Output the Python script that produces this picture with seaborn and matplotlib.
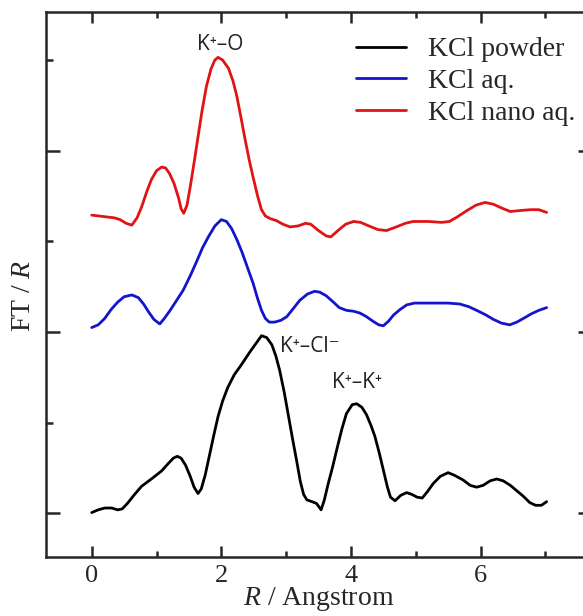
import numpy as np
import pandas as pd
import matplotlib.pyplot as plt
import seaborn as sns
from matplotlib.ticker import MultipleLocator, NullFormatter

# KCl powder (black)
r_powder = [0.00, 0.10, 0.20, 0.31, 0.40, 0.47, 0.55, 0.65, 0.77, 0.92, 1.08, 1.18, 1.26, 1.32,
            1.38, 1.45, 1.52, 1.58, 1.64, 1.69, 1.75, 1.82, 1.88, 1.95, 2.02, 2.10, 2.20, 2.30,
            2.44, 2.54, 2.62, 2.70, 2.78, 2.84, 2.90, 2.97, 3.03, 3.10, 3.16, 3.22, 3.27, 3.32,
            3.40, 3.47, 3.54, 3.59, 3.65, 3.72, 3.78, 3.86, 3.93, 4.02, 4.09, 4.17, 4.24, 4.31,
            4.37, 4.44, 4.50, 4.56, 4.61, 4.68, 4.77, 4.86, 4.94, 5.02, 5.10, 5.18, 5.27, 5.38,
            5.50, 5.60, 5.73, 5.84, 5.94, 6.04, 6.15, 6.25, 6.35, 6.46, 6.56, 6.66, 6.76, 6.85,
            6.94, 7.02]
ft_powder = [0.01, 0.04, 0.06, 0.06, 0.04, 0.05, 0.11, 0.20, 0.30, 0.38, 0.47, 0.55, 0.61, 0.63,
             0.61, 0.53, 0.41, 0.29, 0.22, 0.27, 0.42, 0.65, 0.85, 1.07, 1.24, 1.39, 1.53, 1.63,
             1.78, 1.88, 1.96, 1.94, 1.86, 1.74, 1.58, 1.34, 1.10, 0.82, 0.59, 0.35, 0.21, 0.15,
             0.13, 0.11, 0.04, 0.15, 0.33, 0.52, 0.70, 0.93, 1.10, 1.20, 1.21, 1.17, 1.09, 0.97,
             0.85, 0.66, 0.48, 0.30, 0.18, 0.14, 0.20, 0.23, 0.21, 0.18, 0.17, 0.24, 0.33, 0.41,
             0.45, 0.42, 0.37, 0.31, 0.29, 0.31, 0.36, 0.38, 0.36, 0.31, 0.25, 0.19, 0.12, 0.09,
             0.09, 0.13]

# KCl aq. (blue)
r_aq = [0.00, 0.10, 0.20, 0.30, 0.40, 0.50, 0.62, 0.72, 0.80, 0.88, 0.96, 1.05, 1.12, 1.21,
        1.31, 1.41, 1.52, 1.62, 1.71, 1.80, 1.90, 2.00, 2.08, 2.16, 2.24, 2.32, 2.40, 2.49,
        2.56, 2.62, 2.68, 2.74, 2.82, 2.92, 3.01, 3.10, 3.21, 3.33, 3.44, 3.52, 3.62, 3.73,
        3.82, 3.93, 4.04, 4.14, 4.24, 4.34, 4.43, 4.50, 4.58, 4.66, 4.76, 4.86, 4.98, 5.27,
        5.50, 5.68, 5.82, 5.94, 6.08, 6.20, 6.32, 6.45, 6.56, 6.66, 6.78, 6.90, 7.02]
ft_aq = [2.05, 2.08, 2.15, 2.25, 2.33, 2.39, 2.41, 2.38, 2.31, 2.22, 2.14, 2.09, 2.15, 2.24,
         2.35, 2.46, 2.62, 2.78, 2.93, 3.05, 3.17, 3.24, 3.22, 3.14, 3.02, 2.88, 2.72, 2.54,
         2.37, 2.24, 2.15, 2.11, 2.11, 2.13, 2.17, 2.25, 2.35, 2.42, 2.45, 2.44, 2.40, 2.33,
         2.27, 2.24, 2.23, 2.21, 2.17, 2.12, 2.08, 2.07, 2.12, 2.19, 2.25, 2.30, 2.32, 2.32,
         2.32, 2.31, 2.28, 2.24, 2.19, 2.14, 2.10, 2.08, 2.11, 2.15, 2.20, 2.24, 2.27]

# KCl nano aq. (red)
r_nano = [0.00, 0.12, 0.23, 0.35, 0.44, 0.53, 0.62, 0.70, 0.77, 0.85, 0.92, 1.00, 1.08, 1.14,
          1.20, 1.27, 1.34, 1.38, 1.42, 1.47, 1.52, 1.58, 1.64, 1.70, 1.77, 1.84, 1.90, 1.95,
          2.02, 2.11, 2.18, 2.24, 2.30, 2.36, 2.43, 2.49, 2.56, 2.62, 2.68, 2.76, 2.85, 2.95,
          3.06, 3.18, 3.30, 3.38, 3.50, 3.62, 3.69, 3.80, 3.92, 4.04, 4.15, 4.28, 4.42, 4.55,
          4.70, 4.84, 4.96, 5.20, 5.40, 5.52, 5.64, 5.79, 5.93, 6.07, 6.20, 6.32, 6.46, 6.60,
          6.77, 6.90, 7.02]
ft_nano = [3.29, 3.28, 3.27, 3.26, 3.24, 3.20, 3.18, 3.26, 3.38, 3.55, 3.68, 3.78, 3.82, 3.81,
           3.75, 3.64, 3.48, 3.36, 3.31, 3.40, 3.60, 3.87, 4.15, 4.43, 4.71, 4.90, 5.00, 5.03,
           5.00, 4.91, 4.77, 4.60, 4.38, 4.15, 3.90, 3.71, 3.50, 3.35, 3.28, 3.25, 3.23, 3.19,
           3.16, 3.17, 3.20, 3.19, 3.12, 3.06, 3.05, 3.12, 3.19, 3.22, 3.21, 3.17, 3.13, 3.12,
           3.16, 3.20, 3.22, 3.22, 3.21, 3.22, 3.27, 3.34, 3.40, 3.43, 3.41, 3.37, 3.33, 3.34,
           3.35, 3.35, 3.32]

labels = ['KCl powder', 'KCl aq.', 'KCl nano aq.']
colors = ['black', '#1414cc', '#e01414']

df = pd.concat([
    pd.DataFrame({'R': r_powder, 'FT': ft_powder, 'sample': labels[0]}),
    pd.DataFrame({'R': r_aq, 'FT': ft_aq, 'sample': labels[1]}),
    pd.DataFrame({'R': r_nano, 'FT': ft_nano, 'sample': labels[2]}),
])

sns.set_style('ticks')
plt.rcParams['font.family'] = ['Liberation Serif', 'DejaVu Serif']
plt.rcParams['mathtext.fontset'] = 'custom'
plt.rcParams['mathtext.rm'] = 'Liberation Serif'
plt.rcParams['mathtext.it'] = 'Liberation Serif:italic'

fig = plt.figure(figsize=(5.83, 6.16), dpi=100)
ax = fig.add_axes([0.0784, 0.0958, 0.937, 0.8847])

sns.lineplot(data=df, x='R', y='FT', hue='sample', hue_order=labels,
             palette=dict(zip(labels, colors)), estimator=None, sort=False,
             lw=2.0, solid_joinstyle='round', solid_capstyle='round', ax=ax)

ax.set_xlim(-0.71, 7.72)
ax.set_ylim(-0.48, 5.53)

ax.xaxis.set_major_locator(MultipleLocator(2))
ax.xaxis.set_minor_locator(MultipleLocator(1))
ax.yaxis.set_major_locator(MultipleLocator(2))
ax.yaxis.set_minor_locator(MultipleLocator(1))
ax.yaxis.set_major_formatter(NullFormatter())

ax.tick_params(which='both', direction='in', top=True, right=True, width=1.8,
               labelsize=19, pad=6)
ax.tick_params(axis='x', which='major', length=8)
ax.tick_params(axis='x', which='minor', length=4)
ax.tick_params(axis='y', which='major', length=10)
ax.tick_params(axis='y', which='minor', length=5)
for s in ax.spines.values():
    s.set_linewidth(1.8)

ax.set_xlabel('$R$ / Angstrom', fontsize=20, labelpad=-2)
ax.set_ylabel('FT / $R$', fontsize=20)
ax.yaxis.set_label_coords(-0.018, 0.48)

ann = dict(fontsize=15, family=['Open Sans', 'DejaVu Sans'], color='#222222', va='center')
ax.text(1.98, 5.17, 'K⁺–O', ha='center', **ann)
ax.text(2.90, 1.84, 'K⁺–Cl⁻', ha='left', **ann)
ax.text(4.10, 1.44, 'K⁺–K⁺', ha='center', **ann)

ax.legend(loc='upper left', bbox_to_anchor=(356 / 583, 1 - 37 / 616),
          bbox_transform=fig.transFigure, frameon=False, fontsize=20,
          handlelength=1.8, handletextpad=0.8, labelspacing=0.22,
          borderpad=0, borderaxespad=0, title=None)

fig.savefig('out.png', dpi=100)
